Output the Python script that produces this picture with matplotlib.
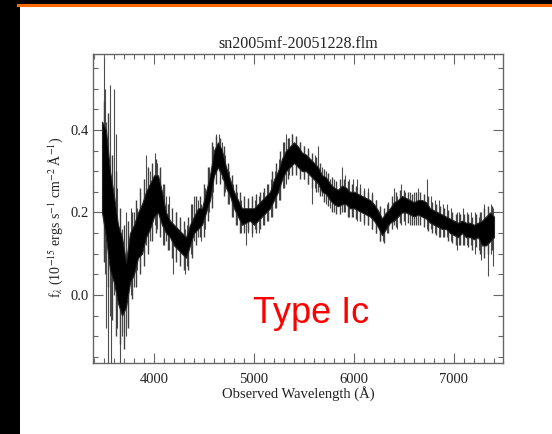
import numpy as np
import matplotlib
matplotlib.use("Agg")
import matplotlib.pyplot as plt
from matplotlib.patches import Rectangle
from matplotlib.lines import Line2D
from matplotlib.ticker import MultipleLocator

plt.rcParams['font.family'] = ['Liberation Serif', 'DejaVu Serif']
plt.rcParams['mathtext.fontset'] = 'stix'

title = "sn2005mf-20051228.flm"
label = "Type Ic"

# dense part of the spectrum: wavelength, lower and upper edge of the noise band
wave = [3480, 3520, 3560, 3600, 3640, 3680, 3720, 3760, 3800, 3840,
        3880, 3920, 3960, 4000, 4040, 4080, 4120, 4160, 4200, 4240,
        4280, 4320, 4360, 4400, 4440, 4480, 4520, 4560, 4600, 4640,
        4680, 4720, 4760, 4800, 4840, 4880, 4920, 4960, 5000, 5040,
        5080, 5120, 5160, 5200, 5240, 5280, 5320, 5360, 5400, 5440,
        5480, 5520, 5560, 5600, 5640, 5680, 5720, 5760, 5800, 5840,
        5880, 5920, 5960, 6000, 6040, 6080, 6120, 6160, 6200, 6240,
        6280, 6320, 6360, 6400, 6440, 6480, 6520, 6560, 6600, 6640,
        6680, 6720, 6760, 6800, 6840, 6880, 6920, 6960, 7000, 7040,
        7080, 7120, 7160, 7200, 7240, 7280, 7320, 7360, 7400]
flux_lo = [0.20, 0.14, 0.06, 0.03, -0.02, -0.05, -0.03, 0.03, 0.05, 0.09,
           0.10, 0.14, 0.16, 0.19, 0.20, 0.17, 0.15, 0.14, 0.12, 0.11,
           0.10, 0.09, 0.12, 0.15, 0.16, 0.17, 0.20, 0.23, 0.29, 0.31,
           0.29, 0.26, 0.24, 0.21, 0.19, 0.17, 0.175, 0.18, 0.17, 0.18,
           0.19, 0.20, 0.21, 0.23, 0.25, 0.28, 0.30, 0.31, 0.32, 0.31,
           0.30, 0.30, 0.29, 0.28, 0.27, 0.25, 0.245, 0.23, 0.22, 0.215,
           0.22, 0.22, 0.21, 0.21, 0.205, 0.20, 0.195, 0.19, 0.18, 0.165,
           0.145, 0.16, 0.175, 0.18, 0.19, 0.20, 0.20, 0.195, 0.19, 0.195,
           0.19, 0.185, 0.175, 0.17, 0.165, 0.16, 0.16, 0.15, 0.145, 0.14,
           0.15, 0.14, 0.14, 0.135, 0.14, 0.12, 0.12, 0.13, 0.14]
flux_hi = [0.42, 0.40, 0.30, 0.24, 0.17, 0.14, 0.08, 0.15, 0.17, 0.20,
           0.22, 0.25, 0.27, 0.29, 0.29, 0.25, 0.20, 0.18, 0.17, 0.16,
           0.15, 0.14, 0.17, 0.19, 0.21, 0.21, 0.25, 0.29, 0.35, 0.37,
           0.35, 0.31, 0.28, 0.25, 0.23, 0.21, 0.21, 0.21, 0.21, 0.22,
           0.23, 0.24, 0.25, 0.28, 0.30, 0.33, 0.35, 0.36, 0.37, 0.36,
           0.345, 0.34, 0.33, 0.32, 0.31, 0.29, 0.285, 0.27, 0.26, 0.255,
           0.265, 0.26, 0.25, 0.25, 0.245, 0.24, 0.235, 0.23, 0.22, 0.205,
           0.185, 0.20, 0.21, 0.225, 0.23, 0.24, 0.235, 0.23, 0.225, 0.23,
           0.23, 0.225, 0.21, 0.205, 0.20, 0.195, 0.19, 0.185, 0.18, 0.175,
           0.18, 0.175, 0.175, 0.17, 0.175, 0.18, 0.19, 0.20, 0.19]

# noise just outside the band, between the band samples
fine_wave = [3500, 3540, 3580, 3620, 3660, 3700, 3740, 3780, 3820, 3860,
             3900, 3940, 3980, 4020, 4060, 4100, 4140, 4180, 4220, 4260,
             4300, 4340, 4380, 4420, 4460, 4500, 4540, 4580, 4620, 4660,
             4700, 4740, 4780, 4820, 4860, 4900, 4940, 4980, 5020, 5060,
             5100, 5140, 5180, 5220, 5260, 5300, 5340, 5380, 5420, 5460,
             5500, 5540, 5580, 5620, 5660, 5700, 5740, 5780, 5820, 5860,
             5900, 5940, 5980, 6020, 6060, 6100, 6140, 6180, 6220, 6260,
             6300, 6340, 6380, 6420, 6460, 6500, 6540, 6580, 6620, 6660,
             6700, 6740, 6780, 6820, 6860, 6900, 6940, 6980, 7020, 7060,
             7100, 7140, 7180, 7220, 7260, 7300, 7340, 7380]
fine_lo = [0.08, 0.02, -0.06, -0.10, -0.12, -0.13, -0.08, -0.01, 0.02, 0.05,
           0.07, 0.10, 0.13, 0.15, 0.14, 0.12, 0.11, 0.09, 0.08, 0.07,
           0.06, 0.06, 0.09, 0.12, 0.14, 0.14, 0.18, 0.21, 0.27, 0.27,
           0.24, 0.22, 0.19, 0.17, 0.15, 0.15, 0.155, 0.15, 0.15, 0.16,
           0.17, 0.18, 0.19, 0.21, 0.23, 0.26, 0.28, 0.29, 0.29, 0.28,
           0.28, 0.27, 0.26, 0.25, 0.24, 0.225, 0.215, 0.20, 0.195, 0.195,
           0.20, 0.19, 0.19, 0.185, 0.18, 0.175, 0.17, 0.16, 0.15, 0.13,
           0.125, 0.15, 0.16, 0.165, 0.175, 0.18, 0.175, 0.17, 0.17, 0.17,
           0.165, 0.155, 0.15, 0.145, 0.14, 0.14, 0.13, 0.125, 0.12, 0.12,
           0.12, 0.115, 0.11, 0.115, 0.10, 0.09, 0.10, 0.11]
fine_hi = [0.47, 0.44, 0.34, 0.30, 0.21, 0.17, 0.18, 0.20, 0.23, 0.26,
           0.28, 0.31, 0.32, 0.33, 0.31, 0.27, 0.22, 0.21, 0.20, 0.19,
           0.18, 0.19, 0.22, 0.24, 0.24, 0.27, 0.31, 0.37, 0.385, 0.38,
           0.36, 0.32, 0.29, 0.27, 0.25, 0.24, 0.235, 0.24, 0.245, 0.25,
           0.26, 0.27, 0.30, 0.32, 0.35, 0.37, 0.38, 0.39, 0.385, 0.37,
           0.36, 0.355, 0.345, 0.335, 0.32, 0.305, 0.295, 0.285, 0.275, 0.28,
           0.28, 0.275, 0.27, 0.265, 0.26, 0.255, 0.25, 0.245, 0.23, 0.215,
           0.21, 0.225, 0.24, 0.25, 0.255, 0.255, 0.25, 0.245, 0.25, 0.25,
           0.245, 0.24, 0.225, 0.22, 0.215, 0.21, 0.205, 0.20, 0.195, 0.195,
           0.195, 0.195, 0.19, 0.195, 0.20, 0.21, 0.215, 0.215]

# single noisy pixels sticking far out of the band
spike_wave = [3495, 3505, 3520, 3540, 3555, 3570, 3597, 3615, 3630, 3663,
              3680, 3700, 3720, 3740, 3770, 3800, 3830, 3860, 3900, 3917,
              3955, 4005, 4030, 4060, 4090, 4120, 4150, 4190, 4220, 4260,
              4307, 4330, 4370, 4400, 4440, 4470, 4510, 4550, 4590, 4620,
              4650, 4680, 4710, 4750, 4790, 4830, 4870, 4920, 4940, 4980,
              5010, 5050, 5090, 5130, 5170, 5210, 5250, 5290, 5320, 5350,
              5380, 5420, 5460, 5500, 5540, 5577, 5610, 5637, 5680, 5720,
              5760, 5800, 5877, 5910, 5950, 5990, 6030, 6060, 6100, 6140,
              6180, 6220, 6260, 6290, 6330, 6400, 6430, 6470, 6510, 6560,
              6600, 6640, 6730, 6770, 6810, 6850, 6890, 6930, 6970, 7027,
              7050, 7090, 7130, 7170, 7210, 7250, 7270, 7300, 7340, 7370,
              7395]
spike_lo = [0.10, 0.05, -0.08, -0.20, -0.05, -0.20, 0.00, -0.04, -0.08, -0.20,
            -0.10, -0.09, -0.10, -0.07, 0.00, 0.02, 0.06, 0.07, 0.10, 0.12,
            0.13, 0.17, 0.16, 0.18, 0.12, 0.13, 0.11, 0.05, 0.09, 0.08,
            0.05, 0.07, 0.10, 0.13, 0.14, 0.13, 0.16, 0.20, 0.25, 0.29,
            0.30, 0.28, 0.25, 0.22, 0.19, 0.17, 0.15, 0.12, 0.15, 0.14,
            0.16, 0.15, 0.17, 0.18, 0.19, 0.21, 0.23, 0.26, 0.27, 0.29,
            0.29, 0.30, 0.29, 0.28, 0.27, 0.22, 0.26, 0.25, 0.24, 0.22,
            0.21, 0.20, 0.20, 0.20, 0.19, 0.19, 0.18, 0.18, 0.17, 0.17,
            0.16, 0.15, 0.13, 0.13, 0.15, 0.17, 0.16, 0.17, 0.17, 0.17,
            0.17, 0.17, 0.16, 0.16, 0.15, 0.14, 0.14, 0.14, 0.13, 0.11,
            0.12, 0.12, 0.12, 0.12, 0.10, 0.11, 0.085, 0.10, 0.045, 0.10,
            0.07]
spike_hi = [0.575, 0.50, 0.42, 0.30, 0.51, 0.20, 0.50, 0.39, 0.26, 0.10,
            0.16, 0.12, 0.20, 0.10, 0.21, 0.20, 0.21, 0.25, 0.26, 0.34,
            0.30, 0.345, 0.32, 0.30, 0.27, 0.24, 0.24, 0.17, 0.20, 0.18,
            0.16, 0.17, 0.22, 0.24, 0.23, 0.22, 0.26, 0.31, 0.36, 0.39,
            0.39, 0.37, 0.34, 0.30, 0.27, 0.25, 0.23, 0.21, 0.23, 0.23,
            0.23, 0.24, 0.25, 0.27, 0.28, 0.30, 0.33, 0.37, 0.39, 0.38,
            0.39, 0.38, 0.37, 0.36, 0.35, 0.33, 0.34, 0.36, 0.31, 0.30,
            0.28, 0.28, 0.31, 0.29, 0.28, 0.28, 0.28, 0.27, 0.26, 0.26,
            0.25, 0.23, 0.21, 0.19, 0.22, 0.26, 0.24, 0.27, 0.25, 0.25,
            0.25, 0.26, 0.28, 0.24, 0.23, 0.23, 0.22, 0.22, 0.21, 0.20,
            0.20, 0.21, 0.20, 0.20, 0.20, 0.19, 0.20, 0.22, 0.21, 0.22,
            0.21]

fig = plt.figure(figsize=(5.52, 4.34), dpi=100, facecolor='black')

# white slide panel and the orange rule above it, kept behind the axes
fig.patches.append(Rectangle((20 / 552, 0), 1, (434 - 7) / 434,
                             transform=fig.transFigure, facecolor='white',
                             edgecolor='none', zorder=-10))
fig.lines.append(Line2D([18 / 552, 1], [(434 - 5) / 434] * 2,
                        transform=fig.transFigure, color='#ff6a00', lw=2.2,
                        zorder=-5))

ax = fig.add_axes([93 / 552, 71 / 434, 410 / 552, 309 / 434])
ax.set_facecolor('white')

ax.vlines(spike_wave, spike_lo, spike_hi, color='0.3', lw=0.8, zorder=2)
ax.vlines(fine_wave, fine_lo, fine_hi, color='0.25', lw=1.0, zorder=2)
ax.fill_between(wave, flux_lo, flux_hi, facecolor='black', edgecolor='0.15',
                lw=0.8, zorder=3)

ax.set_xlim(3390, 7490)
ax.set_ylim(-0.165, 0.584)

ax.xaxis.set_major_locator(MultipleLocator(1000))
ax.xaxis.set_minor_locator(MultipleLocator(100))
ax.yaxis.set_major_locator(MultipleLocator(0.2))
ax.yaxis.set_minor_locator(MultipleLocator(0.05))
ax.yaxis.set_major_formatter(matplotlib.ticker.FormatStrFormatter('%.1f'))

for s in ax.spines.values():
    s.set_color('0.4')
    s.set_linewidth(1.0)
ax.tick_params(which='both', direction='in', top=True, right=True,
               color='0.4', width=0.8, labelsize=10.5, labelcolor='#222222')
ax.tick_params(which='major', length=7)
ax.tick_params(which='minor', length=3.5)
ax.tick_params(axis='x', pad=7)
ax.tick_params(axis='y', pad=3)

ax.set_title(title, fontsize=11.5, color='#222222', pad=4)
ax.set_xlabel("Observed Wavelength (Å)", fontsize=10.5, color='#222222', labelpad=0)
ax.set_ylabel(r"f$_\lambda$ (10$^{-15}$ ergs s$^{-1}$ cm$^{-2}$ Å$^{-1}$)",
              fontsize=10, color='#222222')
ax.yaxis.set_label_coords(-0.068, 0.47)

ax.text(5570, -0.068, label, color='red', fontsize=26, ha='center',
        va='baseline', family=['Liberation Sans', 'DejaVu Sans'])

fig.savefig("out.png", dpi=100, facecolor=fig.get_facecolor())
